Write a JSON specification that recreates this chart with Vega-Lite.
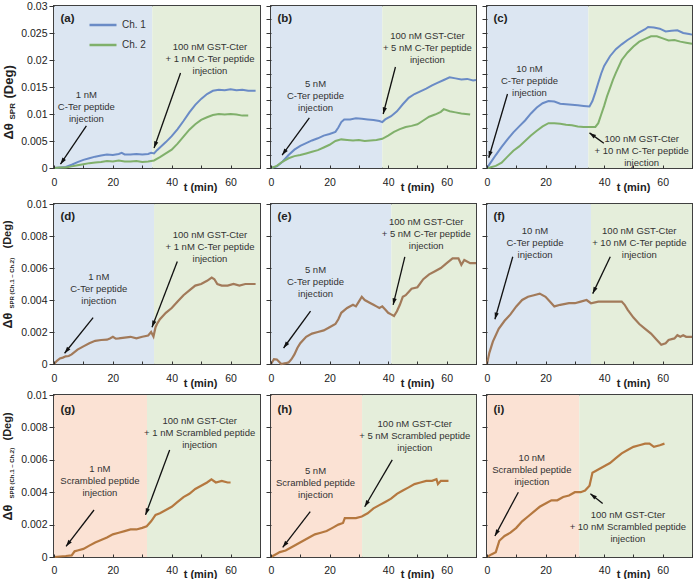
{
"$schema": "https://vega.github.io/schema/vega-lite/v6.json",
"padding": {"left": 0, "top": 0, "right": 0, "bottom": 0},
"background": "white",
"config": {"font": "Liberation Sans", "view": {"stroke": "#404040", "strokeWidth": 2}},
"datasets": {
"bg": [
{"p":"a","t0":0,"t1":33.4,"kind":"pep"},{"p":"a","t0":33.4,"t1":70,"kind":"gst"},
{"p":"b","t0":0,"t1":38,"kind":"pep"},{"p":"b","t0":38,"t1":70,"kind":"gst"},
{"p":"c","t0":0,"t1":34.6,"kind":"pep"},{"p":"c","t0":34.6,"t1":70,"kind":"gst"},
{"p":"d","t0":0,"t1":34,"kind":"pep"},{"p":"d","t0":34,"t1":70,"kind":"gst"},
{"p":"e","t0":0,"t1":41.1,"kind":"pep"},{"p":"e","t0":41.1,"t1":70,"kind":"gst"},
{"p":"f","t0":0,"t1":35.5,"kind":"pep"},{"p":"f","t0":35.5,"t1":70,"kind":"gst"},
{"p":"g","t0":0,"t1":31.6,"kind":"scr"},{"p":"g","t0":31.6,"t1":70,"kind":"gst"},
{"p":"h","t0":0,"t1":31.1,"kind":"scr"},{"p":"h","t0":31.1,"t1":70,"kind":"gst"},
{"p":"i","t0":0,"t1":31.5,"kind":"scr"},{"p":"i","t0":31.5,"t1":70,"kind":"gst"}
],
"lab": [
{"p":"a","t":2.2,"v":0.0276,"txt":"(a)"},{"p":"b","t":2.2,"v":0.0276,"txt":"(b)"},{"p":"c","t":2.2,"v":0.0276,"txt":"(c)"},
{"p":"d","t":2.2,"v":0.0092,"txt":"(d)"},{"p":"e","t":2.2,"v":0.0092,"txt":"(e)"},{"p":"f","t":2.2,"v":0.0092,"txt":"(f)"},
{"p":"g","t":2.2,"v":0.0091,"txt":"(g)"},{"p":"h","t":2.2,"v":0.0091,"txt":"(h)"},{"p":"i","t":2.2,"v":0.0091,"txt":"(i)"}
],
"ann": [
{"p":"a","t":11,"v":0.0135,"txt":"1 nM"},{"p":"a","t":11,"v":0.0113,"txt":"C-Ter peptide"},{"p":"a","t":11,"v":0.0091,"txt":"injection"},
{"p":"a","t":53,"v":0.0224,"txt":"100 nM GST-Cter"},{"p":"a","t":53,"v":0.0202,"txt":"+ 1 nM C-Ter peptide"},{"p":"a","t":53,"v":0.018,"txt":"injection"},
{"p":"b","t":15.2,"v":0.0155,"txt":"5 nM"},{"p":"b","t":15.2,"v":0.0133,"txt":"C-Ter peptide"},{"p":"b","t":15.2,"v":0.0111,"txt":"injection"},
{"p":"b","t":53.4,"v":0.0244,"txt":"100 nM GST-Cter"},{"p":"b","t":53.4,"v":0.0222,"txt":"+ 5 nM C-Ter peptide"},{"p":"b","t":53.4,"v":0.02,"txt":"injection"},
{"p":"c","t":14.5,"v":0.0183,"txt":"10 nM"},{"p":"c","t":14.5,"v":0.0161,"txt":"C-Ter peptide"},{"p":"c","t":14.5,"v":0.0139,"txt":"injection"},
{"p":"c","t":52.8,"v":0.0053,"txt":"100 nM GST-Cter"},{"p":"c","t":52.8,"v":0.0031,"txt":"+ 10 nM C-Ter peptide"},{"p":"c","t":52.8,"v":0.0009,"txt":"injection"},
{"p":"d","t":15.2,"v":0.00545,"txt":"1 nM"},{"p":"d","t":15.2,"v":0.0047,"txt":"C-Ter peptide"},{"p":"d","t":15.2,"v":0.00395,"txt":"injection"},
{"p":"d","t":53,"v":0.00805,"txt":"100 nM GST-Cter"},{"p":"d","t":53,"v":0.0073,"txt":"+ 1 nM C-Ter peptide"},{"p":"d","t":53,"v":0.00655,"txt":"injection"},
{"p":"e","t":15.2,"v":0.00585,"txt":"5 nM"},{"p":"e","t":15.2,"v":0.0051,"txt":"C-Ter peptide"},{"p":"e","t":15.2,"v":0.00435,"txt":"injection"},
{"p":"e","t":53,"v":0.0089,"txt":"100 nM GST-Cter"},{"p":"e","t":53,"v":0.00815,"txt":"+ 5 nM C-Ter peptide"},{"p":"e","t":53,"v":0.0074,"txt":"injection"},
{"p":"f","t":16.4,"v":0.0083,"txt":"10 nM"},{"p":"f","t":16.4,"v":0.00755,"txt":"C-Ter peptide"},{"p":"f","t":16.4,"v":0.0068,"txt":"injection"},
{"p":"f","t":52,"v":0.0083,"txt":"100 nM GST-Cter"},{"p":"f","t":52,"v":0.00755,"txt":"+ 10 nM C-Ter peptide"},{"p":"f","t":52,"v":0.0068,"txt":"injection"},
{"p":"g","t":15.6,"v":0.00545,"txt":"1 nM"},{"p":"g","t":15.6,"v":0.0047,"txt":"Scrambled peptide"},{"p":"g","t":15.6,"v":0.00395,"txt":"injection"},
{"p":"g","t":49.5,"v":0.0084,"txt":"100 nM GST-Cter"},{"p":"g","t":49.5,"v":0.00765,"txt":"+ 1 nM Scrambled peptide"},{"p":"g","t":49.5,"v":0.0069,"txt":"injection"},
{"p":"h","t":15.2,"v":0.0053,"txt":"5 nM"},{"p":"h","t":15.2,"v":0.00455,"txt":"Scrambled peptide"},{"p":"h","t":15.2,"v":0.0038,"txt":"injection"},
{"p":"h","t":49.1,"v":0.0082,"txt":"100 nM GST-Cter"},{"p":"h","t":49.1,"v":0.00745,"txt":"+ 5 nM Scrambled peptide"},{"p":"h","t":49.1,"v":0.0067,"txt":"injection"},
{"p":"i","t":15.3,"v":0.0061,"txt":"10 nM"},{"p":"i","t":15.3,"v":0.00535,"txt":"Scrambled peptide"},{"p":"i","t":15.3,"v":0.0046,"txt":"injection"},
{"p":"i","t":48.1,"v":0.0026,"txt":"100 nM GST-Cter"},{"p":"i","t":48.1,"v":0.00185,"txt":"+ 10 nM Scrambled peptide"},{"p":"i","t":48.1,"v":0.0011,"txt":"injection"}
],
"arr": [
{"p":"a","t":11,"v":0.0078,"t2":2.2,"v2":0.0007},{"p":"a","t":43,"v":0.0176,"t2":34,"v2":0.0037},
{"p":"b","t":13.1,"v":0.0093,"t2":3.8,"v2":0.0024},{"p":"b","t":42.5,"v":0.0187,"t2":38.3,"v2":0.01},
{"p":"c","t":7,"v":0.0137,"t2":0.6,"v2":0.0019},{"p":"c","t":39.9,"v":0.0046,"t2":35,"v2":0.0065},
{"p":"d","t":13.3,"v":0.0029,"t2":3.6,"v2":0.00067},{"p":"d","t":41.9,"v":0.0064,"t2":33.3,"v2":0.0023},
{"p":"e","t":13.5,"v":0.0033,"t2":4.3,"v2":0.001},{"p":"e","t":45.7,"v":0.0067,"t2":41.7,"v2":0.0037},
{"p":"f","t":8.8,"v":0.0067,"t2":2.7,"v2":0.0028},{"p":"f","t":42.1,"v":0.0067,"t2":36.1,"v2":0.0044},
{"p":"g","t":13.6,"v":0.0029,"t2":4.1,"v2":0.00066},{"p":"g","t":39.3,"v":0.0066,"t2":31.1,"v2":0.0026},
{"p":"h","t":13.4,"v":0.0028,"t2":4,"v2":0.0006},{"p":"h","t":41.4,"v":0.006,"t2":32,"v2":0.0031},
{"p":"i","t":10.7,"v":0.004,"t2":2.7,"v2":0.0013},{"p":"i","t":39.5,"v":0.0033,"t2":35.3,"v2":0.0039}
],
"lines": [
{"p":"a","ch":"Ch. 1","t":0,"v":0},{"p":"a","ch":"Ch. 1","t":2,"v":0.0001},{"p":"a","ch":"Ch. 1","t":4,"v":0.0002},{"p":"a","ch":"Ch. 1","t":6,"v":0.0006},{"p":"a","ch":"Ch. 1","t":8,"v":0.0011},{"p":"a","ch":"Ch. 1","t":10,"v":0.0015},{"p":"a","ch":"Ch. 1","t":12,"v":0.0018},{"p":"a","ch":"Ch. 1","t":14,"v":0.0021},{"p":"a","ch":"Ch. 1","t":16,"v":0.0023},{"p":"a","ch":"Ch. 1","t":18,"v":0.0025},{"p":"a","ch":"Ch. 1","t":20,"v":0.0024},{"p":"a","ch":"Ch. 1","t":22,"v":0.0026},{"p":"a","ch":"Ch. 1","t":23,"v":0.0028},{"p":"a","ch":"Ch. 1","t":24,"v":0.0025},{"p":"a","ch":"Ch. 1","t":26,"v":0.0025},{"p":"a","ch":"Ch. 1","t":28,"v":0.0026},{"p":"a","ch":"Ch. 1","t":30,"v":0.0025},{"p":"a","ch":"Ch. 1","t":32,"v":0.0026},{"p":"a","ch":"Ch. 1","t":33,"v":0.0028},{"p":"a","ch":"Ch. 1","t":34,"v":0.0027},{"p":"a","ch":"Ch. 1","t":35,"v":0.0033},{"p":"a","ch":"Ch. 1","t":36,"v":0.0038},{"p":"a","ch":"Ch. 1","t":38,"v":0.0048},{"p":"a","ch":"Ch. 1","t":40,"v":0.0059},{"p":"a","ch":"Ch. 1","t":42,"v":0.0072},{"p":"a","ch":"Ch. 1","t":44,"v":0.0087},{"p":"a","ch":"Ch. 1","t":46,"v":0.0103},{"p":"a","ch":"Ch. 1","t":48,"v":0.0117},{"p":"a","ch":"Ch. 1","t":50,"v":0.0128},{"p":"a","ch":"Ch. 1","t":52,"v":0.0137},{"p":"a","ch":"Ch. 1","t":54,"v":0.0143},{"p":"a","ch":"Ch. 1","t":56,"v":0.0145},{"p":"a","ch":"Ch. 1","t":58,"v":0.0144},{"p":"a","ch":"Ch. 1","t":60,"v":0.0146},{"p":"a","ch":"Ch. 1","t":62,"v":0.0144},{"p":"a","ch":"Ch. 1","t":64,"v":0.0145},{"p":"a","ch":"Ch. 1","t":66,"v":0.0143},{"p":"a","ch":"Ch. 1","t":68.5,"v":0.0143},
{"p":"a","ch":"Ch. 2","t":0,"v":0},{"p":"a","ch":"Ch. 2","t":2,"v":0.0001},{"p":"a","ch":"Ch. 2","t":4,"v":0.0001},{"p":"a","ch":"Ch. 2","t":6,"v":0.0003},{"p":"a","ch":"Ch. 2","t":8,"v":0.0005},{"p":"a","ch":"Ch. 2","t":10,"v":0.0007},{"p":"a","ch":"Ch. 2","t":12,"v":0.0009},{"p":"a","ch":"Ch. 2","t":14,"v":0.001},{"p":"a","ch":"Ch. 2","t":16,"v":0.0011},{"p":"a","ch":"Ch. 2","t":18,"v":0.0013},{"p":"a","ch":"Ch. 2","t":20,"v":0.0012},{"p":"a","ch":"Ch. 2","t":22,"v":0.0014},{"p":"a","ch":"Ch. 2","t":24,"v":0.0012},{"p":"a","ch":"Ch. 2","t":26,"v":0.0012},{"p":"a","ch":"Ch. 2","t":28,"v":0.0013},{"p":"a","ch":"Ch. 2","t":30,"v":0.0011},{"p":"a","ch":"Ch. 2","t":32,"v":0.0012},{"p":"a","ch":"Ch. 2","t":34,"v":0.0014},{"p":"a","ch":"Ch. 2","t":36,"v":0.002},{"p":"a","ch":"Ch. 2","t":38,"v":0.0027},{"p":"a","ch":"Ch. 2","t":40,"v":0.0034},{"p":"a","ch":"Ch. 2","t":42,"v":0.0045},{"p":"a","ch":"Ch. 2","t":44,"v":0.0058},{"p":"a","ch":"Ch. 2","t":46,"v":0.0071},{"p":"a","ch":"Ch. 2","t":48,"v":0.0081},{"p":"a","ch":"Ch. 2","t":50,"v":0.0089},{"p":"a","ch":"Ch. 2","t":52,"v":0.0094},{"p":"a","ch":"Ch. 2","t":54,"v":0.0098},{"p":"a","ch":"Ch. 2","t":56,"v":0.01},{"p":"a","ch":"Ch. 2","t":58,"v":0.0099},{"p":"a","ch":"Ch. 2","t":60,"v":0.01},{"p":"a","ch":"Ch. 2","t":62,"v":0.0099},{"p":"a","ch":"Ch. 2","t":64,"v":0.0097},{"p":"a","ch":"Ch. 2","t":66,"v":0.0097},
{"p":"b","ch":"Ch. 1","t":0,"v":0},{"p":"b","ch":"Ch. 1","t":2,"v":0.0003},{"p":"b","ch":"Ch. 1","t":4,"v":0.0012},{"p":"b","ch":"Ch. 1","t":6,"v":0.0024},{"p":"b","ch":"Ch. 1","t":8,"v":0.0034},{"p":"b","ch":"Ch. 1","t":10,"v":0.0041},{"p":"b","ch":"Ch. 1","t":12,"v":0.0046},{"p":"b","ch":"Ch. 1","t":14,"v":0.0051},{"p":"b","ch":"Ch. 1","t":16,"v":0.0055},{"p":"b","ch":"Ch. 1","t":18,"v":0.006},{"p":"b","ch":"Ch. 1","t":20,"v":0.0063},{"p":"b","ch":"Ch. 1","t":22,"v":0.0067},{"p":"b","ch":"Ch. 1","t":23,"v":0.0075},{"p":"b","ch":"Ch. 1","t":24,"v":0.0085},{"p":"b","ch":"Ch. 1","t":25,"v":0.009},{"p":"b","ch":"Ch. 1","t":27,"v":0.009},{"p":"b","ch":"Ch. 1","t":29,"v":0.0092},{"p":"b","ch":"Ch. 1","t":31,"v":0.0091},{"p":"b","ch":"Ch. 1","t":33,"v":0.009},{"p":"b","ch":"Ch. 1","t":35,"v":0.0089},{"p":"b","ch":"Ch. 1","t":37,"v":0.0087},{"p":"b","ch":"Ch. 1","t":38,"v":0.0085},{"p":"b","ch":"Ch. 1","t":39,"v":0.009},{"p":"b","ch":"Ch. 1","t":41,"v":0.0096},{"p":"b","ch":"Ch. 1","t":43,"v":0.0105},{"p":"b","ch":"Ch. 1","t":45,"v":0.0118},{"p":"b","ch":"Ch. 1","t":47,"v":0.013},{"p":"b","ch":"Ch. 1","t":49,"v":0.0137},{"p":"b","ch":"Ch. 1","t":51,"v":0.0142},{"p":"b","ch":"Ch. 1","t":53,"v":0.0147},{"p":"b","ch":"Ch. 1","t":55,"v":0.0153},{"p":"b","ch":"Ch. 1","t":57,"v":0.0158},{"p":"b","ch":"Ch. 1","t":59,"v":0.0163},{"p":"b","ch":"Ch. 1","t":61,"v":0.0168},{"p":"b","ch":"Ch. 1","t":63,"v":0.0166},{"p":"b","ch":"Ch. 1","t":65,"v":0.0164},{"p":"b","ch":"Ch. 1","t":67,"v":0.0165},{"p":"b","ch":"Ch. 1","t":69,"v":0.0162},{"p":"b","ch":"Ch. 1","t":70,"v":0.0163},
{"p":"b","ch":"Ch. 2","t":0,"v":0},{"p":"b","ch":"Ch. 2","t":2,"v":0.0004},{"p":"b","ch":"Ch. 2","t":4,"v":0.0012},{"p":"b","ch":"Ch. 2","t":6,"v":0.0018},{"p":"b","ch":"Ch. 2","t":8,"v":0.0022},{"p":"b","ch":"Ch. 2","t":10,"v":0.0024},{"p":"b","ch":"Ch. 2","t":12,"v":0.0027},{"p":"b","ch":"Ch. 2","t":14,"v":0.003},{"p":"b","ch":"Ch. 2","t":16,"v":0.0033},{"p":"b","ch":"Ch. 2","t":18,"v":0.0038},{"p":"b","ch":"Ch. 2","t":20,"v":0.0043},{"p":"b","ch":"Ch. 2","t":22,"v":0.005},{"p":"b","ch":"Ch. 2","t":24,"v":0.0053},{"p":"b","ch":"Ch. 2","t":26,"v":0.0052},{"p":"b","ch":"Ch. 2","t":28,"v":0.0051},{"p":"b","ch":"Ch. 2","t":30,"v":0.0052},{"p":"b","ch":"Ch. 2","t":32,"v":0.005},{"p":"b","ch":"Ch. 2","t":34,"v":0.0051},{"p":"b","ch":"Ch. 2","t":36,"v":0.0052},{"p":"b","ch":"Ch. 2","t":38,"v":0.0054},{"p":"b","ch":"Ch. 2","t":40,"v":0.006},{"p":"b","ch":"Ch. 2","t":42,"v":0.0067},{"p":"b","ch":"Ch. 2","t":44,"v":0.0072},{"p":"b","ch":"Ch. 2","t":46,"v":0.0076},{"p":"b","ch":"Ch. 2","t":48,"v":0.0078},{"p":"b","ch":"Ch. 2","t":50,"v":0.0081},{"p":"b","ch":"Ch. 2","t":52,"v":0.0088},{"p":"b","ch":"Ch. 2","t":54,"v":0.0095},{"p":"b","ch":"Ch. 2","t":56,"v":0.0099},{"p":"b","ch":"Ch. 2","t":58,"v":0.0104},{"p":"b","ch":"Ch. 2","t":59,"v":0.0109},{"p":"b","ch":"Ch. 2","t":61,"v":0.0105},{"p":"b","ch":"Ch. 2","t":63,"v":0.0103},{"p":"b","ch":"Ch. 2","t":65,"v":0.0101},{"p":"b","ch":"Ch. 2","t":68,"v":0.0099},
{"p":"c","ch":"Ch. 1","t":0,"v":0},{"p":"c","ch":"Ch. 1","t":1,"v":0.0008},{"p":"c","ch":"Ch. 1","t":3,"v":0.0024},{"p":"c","ch":"Ch. 1","t":5,"v":0.0039},{"p":"c","ch":"Ch. 1","t":7,"v":0.0053},{"p":"c","ch":"Ch. 1","t":9,"v":0.0066},{"p":"c","ch":"Ch. 1","t":11,"v":0.0077},{"p":"c","ch":"Ch. 1","t":13,"v":0.0088},{"p":"c","ch":"Ch. 1","t":15,"v":0.0101},{"p":"c","ch":"Ch. 1","t":17,"v":0.0112},{"p":"c","ch":"Ch. 1","t":19,"v":0.012},{"p":"c","ch":"Ch. 1","t":21,"v":0.0124},{"p":"c","ch":"Ch. 1","t":23,"v":0.0123},{"p":"c","ch":"Ch. 1","t":25,"v":0.0119},{"p":"c","ch":"Ch. 1","t":27,"v":0.0118},{"p":"c","ch":"Ch. 1","t":29,"v":0.0117},{"p":"c","ch":"Ch. 1","t":31,"v":0.0116},{"p":"c","ch":"Ch. 1","t":33,"v":0.0115},{"p":"c","ch":"Ch. 1","t":35,"v":0.0114},{"p":"c","ch":"Ch. 1","t":36,"v":0.0124},{"p":"c","ch":"Ch. 1","t":37,"v":0.014},{"p":"c","ch":"Ch. 1","t":38,"v":0.0158},{"p":"c","ch":"Ch. 1","t":39,"v":0.0175},{"p":"c","ch":"Ch. 1","t":40,"v":0.0189},{"p":"c","ch":"Ch. 1","t":42,"v":0.0207},{"p":"c","ch":"Ch. 1","t":44,"v":0.022},{"p":"c","ch":"Ch. 1","t":46,"v":0.0229},{"p":"c","ch":"Ch. 1","t":48,"v":0.0237},{"p":"c","ch":"Ch. 1","t":50,"v":0.0244},{"p":"c","ch":"Ch. 1","t":52,"v":0.0251},{"p":"c","ch":"Ch. 1","t":54,"v":0.0257},{"p":"c","ch":"Ch. 1","t":55,"v":0.0261},{"p":"c","ch":"Ch. 1","t":57,"v":0.026},{"p":"c","ch":"Ch. 1","t":59,"v":0.0258},{"p":"c","ch":"Ch. 1","t":61,"v":0.0253},{"p":"c","ch":"Ch. 1","t":63,"v":0.0254},{"p":"c","ch":"Ch. 1","t":65,"v":0.0255},{"p":"c","ch":"Ch. 1","t":67,"v":0.025},{"p":"c","ch":"Ch. 1","t":69,"v":0.0248},{"p":"c","ch":"Ch. 1","t":70,"v":0.0247},
{"p":"c","ch":"Ch. 2","t":0,"v":0},{"p":"c","ch":"Ch. 2","t":1,"v":0.0001},{"p":"c","ch":"Ch. 2","t":3,"v":0.0004},{"p":"c","ch":"Ch. 2","t":5,"v":0.001},{"p":"c","ch":"Ch. 2","t":7,"v":0.0021},{"p":"c","ch":"Ch. 2","t":9,"v":0.0032},{"p":"c","ch":"Ch. 2","t":11,"v":0.004},{"p":"c","ch":"Ch. 2","t":13,"v":0.005},{"p":"c","ch":"Ch. 2","t":15,"v":0.006},{"p":"c","ch":"Ch. 2","t":17,"v":0.0069},{"p":"c","ch":"Ch. 2","t":19,"v":0.0077},{"p":"c","ch":"Ch. 2","t":21,"v":0.0083},{"p":"c","ch":"Ch. 2","t":23,"v":0.0083},{"p":"c","ch":"Ch. 2","t":25,"v":0.0082},{"p":"c","ch":"Ch. 2","t":27,"v":0.008},{"p":"c","ch":"Ch. 2","t":29,"v":0.0079},{"p":"c","ch":"Ch. 2","t":31,"v":0.0077},{"p":"c","ch":"Ch. 2","t":33,"v":0.0076},{"p":"c","ch":"Ch. 2","t":35,"v":0.0076},{"p":"c","ch":"Ch. 2","t":37,"v":0.0076},{"p":"c","ch":"Ch. 2","t":38,"v":0.0083},{"p":"c","ch":"Ch. 2","t":39,"v":0.0099},{"p":"c","ch":"Ch. 2","t":40,"v":0.0115},{"p":"c","ch":"Ch. 2","t":41,"v":0.0133},{"p":"c","ch":"Ch. 2","t":42,"v":0.0148},{"p":"c","ch":"Ch. 2","t":43,"v":0.0163},{"p":"c","ch":"Ch. 2","t":44,"v":0.0176},{"p":"c","ch":"Ch. 2","t":46,"v":0.02},{"p":"c","ch":"Ch. 2","t":48,"v":0.0214},{"p":"c","ch":"Ch. 2","t":50,"v":0.0225},{"p":"c","ch":"Ch. 2","t":52,"v":0.0234},{"p":"c","ch":"Ch. 2","t":54,"v":0.0239},{"p":"c","ch":"Ch. 2","t":56,"v":0.0244},{"p":"c","ch":"Ch. 2","t":58,"v":0.0244},{"p":"c","ch":"Ch. 2","t":60,"v":0.024},{"p":"c","ch":"Ch. 2","t":62,"v":0.0236},{"p":"c","ch":"Ch. 2","t":64,"v":0.0237},{"p":"c","ch":"Ch. 2","t":66,"v":0.0234},{"p":"c","ch":"Ch. 2","t":68,"v":0.0232},{"p":"c","ch":"Ch. 2","t":70,"v":0.023},
{"p":"d","ch":"d","t":0,"v":0},{"p":"d","ch":"d","t":1,"v":0.0002},{"p":"d","ch":"d","t":2,"v":0.00035},{"p":"d","ch":"d","t":3,"v":0.0004},{"p":"d","ch":"d","t":4,"v":0.00048},{"p":"d","ch":"d","t":5,"v":0.0005},{"p":"d","ch":"d","t":6,"v":0.0006},{"p":"d","ch":"d","t":8,"v":0.0009},{"p":"d","ch":"d","t":10,"v":0.0011},{"p":"d","ch":"d","t":12,"v":0.0013},{"p":"d","ch":"d","t":14,"v":0.00145},{"p":"d","ch":"d","t":16,"v":0.0015},{"p":"d","ch":"d","t":18,"v":0.00152},{"p":"d","ch":"d","t":19,"v":0.0016},{"p":"d","ch":"d","t":20,"v":0.0017},{"p":"d","ch":"d","t":21,"v":0.00158},{"p":"d","ch":"d","t":22,"v":0.0016},{"p":"d","ch":"d","t":24,"v":0.00165},{"p":"d","ch":"d","t":26,"v":0.0017},{"p":"d","ch":"d","t":28,"v":0.0016},{"p":"d","ch":"d","t":30,"v":0.0017},{"p":"d","ch":"d","t":32,"v":0.00178},{"p":"d","ch":"d","t":33,"v":0.002},{"p":"d","ch":"d","t":33.8,"v":0.00172},{"p":"d","ch":"d","t":34.5,"v":0.0023},{"p":"d","ch":"d","t":35,"v":0.0025},{"p":"d","ch":"d","t":36,"v":0.0028},{"p":"d","ch":"d","t":37,"v":0.003},{"p":"d","ch":"d","t":38,"v":0.0032},{"p":"d","ch":"d","t":40,"v":0.0035},{"p":"d","ch":"d","t":42,"v":0.0039},{"p":"d","ch":"d","t":44,"v":0.0043},{"p":"d","ch":"d","t":46,"v":0.0046},{"p":"d","ch":"d","t":48,"v":0.0049},{"p":"d","ch":"d","t":50,"v":0.005},{"p":"d","ch":"d","t":52,"v":0.0052},{"p":"d","ch":"d","t":53.6,"v":0.0054},{"p":"d","ch":"d","t":54.5,"v":0.0053},{"p":"d","ch":"d","t":55.5,"v":0.005},{"p":"d","ch":"d","t":57,"v":0.0049},{"p":"d","ch":"d","t":59,"v":0.0049},{"p":"d","ch":"d","t":61,"v":0.005},{"p":"d","ch":"d","t":63,"v":0.0049},{"p":"d","ch":"d","t":65,"v":0.005},{"p":"d","ch":"d","t":67,"v":0.005},{"p":"d","ch":"d","t":68.5,"v":0.005},
{"p":"e","ch":"d","t":0,"v":0},{"p":"e","ch":"d","t":1,"v":0.0003},{"p":"e","ch":"d","t":2,"v":0.00028},{"p":"e","ch":"d","t":3,"v":0.0001},{"p":"e","ch":"d","t":3.5,"v":0},{"p":"e","ch":"d","t":5,"v":0.00005},{"p":"e","ch":"d","t":6,"v":0.0001},{"p":"e","ch":"d","t":7,"v":0.0003},{"p":"e","ch":"d","t":8,"v":0.0006},{"p":"e","ch":"d","t":9,"v":0.001},{"p":"e","ch":"d","t":10,"v":0.0013},{"p":"e","ch":"d","t":12,"v":0.0017},{"p":"e","ch":"d","t":14,"v":0.0019},{"p":"e","ch":"d","t":16,"v":0.002},{"p":"e","ch":"d","t":18,"v":0.0021},{"p":"e","ch":"d","t":20,"v":0.0023},{"p":"e","ch":"d","t":22,"v":0.0025},{"p":"e","ch":"d","t":23,"v":0.0028},{"p":"e","ch":"d","t":24,"v":0.0032},{"p":"e","ch":"d","t":26,"v":0.0035},{"p":"e","ch":"d","t":28,"v":0.0037},{"p":"e","ch":"d","t":29,"v":0.0036},{"p":"e","ch":"d","t":30,"v":0.0039},{"p":"e","ch":"d","t":31,"v":0.0042},{"p":"e","ch":"d","t":32,"v":0.004},{"p":"e","ch":"d","t":34,"v":0.0038},{"p":"e","ch":"d","t":35,"v":0.0037},{"p":"e","ch":"d","t":36,"v":0.0036},{"p":"e","ch":"d","t":37,"v":0.0035},{"p":"e","ch":"d","t":38,"v":0.0036},{"p":"e","ch":"d","t":39,"v":0.0034},{"p":"e","ch":"d","t":40,"v":0.0032},{"p":"e","ch":"d","t":41,"v":0.0031},{"p":"e","ch":"d","t":42,"v":0.003},{"p":"e","ch":"d","t":43,"v":0.0033},{"p":"e","ch":"d","t":44,"v":0.0037},{"p":"e","ch":"d","t":45,"v":0.0042},{"p":"e","ch":"d","t":46,"v":0.0043},{"p":"e","ch":"d","t":48,"v":0.0047},{"p":"e","ch":"d","t":50,"v":0.0048},{"p":"e","ch":"d","t":52,"v":0.0053},{"p":"e","ch":"d","t":54,"v":0.0056},{"p":"e","ch":"d","t":56,"v":0.0058},{"p":"e","ch":"d","t":58,"v":0.006},{"p":"e","ch":"d","t":60,"v":0.0063},{"p":"e","ch":"d","t":62,"v":0.0066},{"p":"e","ch":"d","t":64,"v":0.0066},{"p":"e","ch":"d","t":65,"v":0.0062},{"p":"e","ch":"d","t":66,"v":0.0065},{"p":"e","ch":"d","t":68,"v":0.0063},{"p":"e","ch":"d","t":70,"v":0.0063},
{"p":"f","ch":"d","t":0,"v":0},{"p":"f","ch":"d","t":0.8,"v":0.0007},{"p":"f","ch":"d","t":2,"v":0.0014},{"p":"f","ch":"d","t":4,"v":0.0022},{"p":"f","ch":"d","t":6,"v":0.0027},{"p":"f","ch":"d","t":8,"v":0.0031},{"p":"f","ch":"d","t":10,"v":0.0036},{"p":"f","ch":"d","t":12,"v":0.004},{"p":"f","ch":"d","t":14,"v":0.0042},{"p":"f","ch":"d","t":16,"v":0.0043},{"p":"f","ch":"d","t":18,"v":0.0044},{"p":"f","ch":"d","t":20,"v":0.0042},{"p":"f","ch":"d","t":22,"v":0.0038},{"p":"f","ch":"d","t":23,"v":0.0036},{"p":"f","ch":"d","t":25,"v":0.0037},{"p":"f","ch":"d","t":28,"v":0.0038},{"p":"f","ch":"d","t":30,"v":0.0038},{"p":"f","ch":"d","t":32,"v":0.0039},{"p":"f","ch":"d","t":34,"v":0.004},{"p":"f","ch":"d","t":35.5,"v":0.0038},{"p":"f","ch":"d","t":38,"v":0.0039},{"p":"f","ch":"d","t":40,"v":0.0039},{"p":"f","ch":"d","t":42,"v":0.0039},{"p":"f","ch":"d","t":44,"v":0.0039},{"p":"f","ch":"d","t":46,"v":0.0039},{"p":"f","ch":"d","t":47,"v":0.0037},{"p":"f","ch":"d","t":48,"v":0.0034},{"p":"f","ch":"d","t":50,"v":0.0029},{"p":"f","ch":"d","t":52,"v":0.0025},{"p":"f","ch":"d","t":54,"v":0.0022},{"p":"f","ch":"d","t":56,"v":0.0019},{"p":"f","ch":"d","t":58,"v":0.0015},{"p":"f","ch":"d","t":59.5,"v":0.0012},{"p":"f","ch":"d","t":61,"v":0.0013},{"p":"f","ch":"d","t":62,"v":0.0015},{"p":"f","ch":"d","t":64,"v":0.0016},{"p":"f","ch":"d","t":65,"v":0.0018},{"p":"f","ch":"d","t":66,"v":0.0017},{"p":"f","ch":"d","t":67,"v":0.0018},{"p":"f","ch":"d","t":68,"v":0.0017},{"p":"f","ch":"d","t":70,"v":0.0017},
{"p":"g","ch":"d","t":0,"v":0},{"p":"g","ch":"d","t":2,"v":0.00003},{"p":"g","ch":"d","t":4,"v":0.00006},{"p":"g","ch":"d","t":6,"v":0.0001},{"p":"g","ch":"d","t":7,"v":0.00035},{"p":"g","ch":"d","t":8,"v":0.0004},{"p":"g","ch":"d","t":10,"v":0.0005},{"p":"g","ch":"d","t":12,"v":0.0007},{"p":"g","ch":"d","t":14,"v":0.0009},{"p":"g","ch":"d","t":16,"v":0.00105},{"p":"g","ch":"d","t":18,"v":0.0012},{"p":"g","ch":"d","t":20,"v":0.0014},{"p":"g","ch":"d","t":22,"v":0.0015},{"p":"g","ch":"d","t":24,"v":0.0016},{"p":"g","ch":"d","t":26,"v":0.0017},{"p":"g","ch":"d","t":28,"v":0.0017},{"p":"g","ch":"d","t":30,"v":0.0018},{"p":"g","ch":"d","t":31.5,"v":0.0019},{"p":"g","ch":"d","t":33,"v":0.0022},{"p":"g","ch":"d","t":34.5,"v":0.0026},{"p":"g","ch":"d","t":36,"v":0.0027},{"p":"g","ch":"d","t":38,"v":0.0029},{"p":"g","ch":"d","t":40,"v":0.0031},{"p":"g","ch":"d","t":42,"v":0.0034},{"p":"g","ch":"d","t":44,"v":0.0037},{"p":"g","ch":"d","t":46,"v":0.0039},{"p":"g","ch":"d","t":48,"v":0.0042},{"p":"g","ch":"d","t":50,"v":0.0044},{"p":"g","ch":"d","t":52,"v":0.0046},{"p":"g","ch":"d","t":53.5,"v":0.0048},{"p":"g","ch":"d","t":55,"v":0.0046},{"p":"g","ch":"d","t":57,"v":0.0047},{"p":"g","ch":"d","t":59,"v":0.0046},{"p":"g","ch":"d","t":60,"v":0.0046},
{"p":"h","ch":"d","t":0,"v":0},{"p":"h","ch":"d","t":2,"v":0.0002},{"p":"h","ch":"d","t":3,"v":0.0003},{"p":"h","ch":"d","t":5,"v":0.0004},{"p":"h","ch":"d","t":7,"v":0.0006},{"p":"h","ch":"d","t":9,"v":0.0008},{"p":"h","ch":"d","t":11,"v":0.001},{"p":"h","ch":"d","t":13,"v":0.0012},{"p":"h","ch":"d","t":15,"v":0.0014},{"p":"h","ch":"d","t":17,"v":0.0015},{"p":"h","ch":"d","t":19,"v":0.0016},{"p":"h","ch":"d","t":21,"v":0.0018},{"p":"h","ch":"d","t":23,"v":0.002},{"p":"h","ch":"d","t":24.6,"v":0.0021},{"p":"h","ch":"d","t":25.2,"v":0.0024},{"p":"h","ch":"d","t":27,"v":0.0024},{"p":"h","ch":"d","t":29,"v":0.0024},{"p":"h","ch":"d","t":31,"v":0.0025},{"p":"h","ch":"d","t":33,"v":0.0027},{"p":"h","ch":"d","t":35,"v":0.003},{"p":"h","ch":"d","t":37,"v":0.0032},{"p":"h","ch":"d","t":39,"v":0.0034},{"p":"h","ch":"d","t":41,"v":0.0036},{"p":"h","ch":"d","t":43,"v":0.0039},{"p":"h","ch":"d","t":45,"v":0.0041},{"p":"h","ch":"d","t":47,"v":0.0043},{"p":"h","ch":"d","t":49,"v":0.0045},{"p":"h","ch":"d","t":51,"v":0.0046},{"p":"h","ch":"d","t":53,"v":0.0047},{"p":"h","ch":"d","t":55,"v":0.0047},{"p":"h","ch":"d","t":56.5,"v":0.0048},{"p":"h","ch":"d","t":57,"v":0.0045},{"p":"h","ch":"d","t":58,"v":0.0047},{"p":"h","ch":"d","t":60.6,"v":0.0047},
{"p":"i","ch":"d","t":0,"v":0},{"p":"i","ch":"d","t":1.5,"v":0.00016},{"p":"i","ch":"d","t":3,"v":0.0003},{"p":"i","ch":"d","t":4.2,"v":0.001},{"p":"i","ch":"d","t":6,"v":0.0013},{"p":"i","ch":"d","t":8,"v":0.0015},{"p":"i","ch":"d","t":10,"v":0.0018},{"p":"i","ch":"d","t":12,"v":0.0022},{"p":"i","ch":"d","t":14,"v":0.0025},{"p":"i","ch":"d","t":16,"v":0.0028},{"p":"i","ch":"d","t":18,"v":0.0031},{"p":"i","ch":"d","t":20,"v":0.0033},{"p":"i","ch":"d","t":22,"v":0.0035},{"p":"i","ch":"d","t":24,"v":0.0035},{"p":"i","ch":"d","t":26,"v":0.0037},{"p":"i","ch":"d","t":28,"v":0.0038},{"p":"i","ch":"d","t":30,"v":0.004},{"p":"i","ch":"d","t":32,"v":0.004},{"p":"i","ch":"d","t":33.5,"v":0.0041},{"p":"i","ch":"d","t":35,"v":0.0044},{"p":"i","ch":"d","t":36,"v":0.0052},{"p":"i","ch":"d","t":38,"v":0.0054},{"p":"i","ch":"d","t":40,"v":0.0056},{"p":"i","ch":"d","t":42,"v":0.0058},{"p":"i","ch":"d","t":44,"v":0.0061},{"p":"i","ch":"d","t":46,"v":0.0064},{"p":"i","ch":"d","t":48,"v":0.0066},{"p":"i","ch":"d","t":50,"v":0.0068},{"p":"i","ch":"d","t":52,"v":0.0069},{"p":"i","ch":"d","t":54,"v":0.007},{"p":"i","ch":"d","t":55.5,"v":0.007},{"p":"i","ch":"d","t":57,"v":0.0068},{"p":"i","ch":"d","t":59,"v":0.0069},{"p":"i","ch":"d","t":60.6,"v":0.007}
]
},
"spacing": 5,
"vconcat": [
{"bounds": "flush", "spacing": 11, "resolve": {"scale": {"color": "independent"}, "legend": {"color": "independent"}}, "hconcat": [
{"width": 206, "height": 162, "resolve": {"axis": {"x": "independent", "y": "independent"}}, "layer": [
{"data": {"name": "bg"}, "transform": [{"filter": "datum.p == 'a'"}], "mark": "rect", "encoding": {"x": {"field": "t0", "type": "quantitative", "scale": {"domain": [0, 70], "nice": false}, "axis": null}, "x2": {"field": "t1"}, "fill": {"field": "kind", "type": "nominal", "scale": {"domain": ["pep", "scr", "gst"], "range": ["#dce6f2", "#fbe2d4", "#e5eedb"]}, "legend": null}}},
{"data": {"name": "lines"}, "transform": [{"filter": "datum.p == 'a'"}], "mark": {"type": "line", "strokeWidth": 2}, "encoding": {
"x": {"field": "t", "type": "quantitative", "scale": {"domain": [0, 70], "nice": false}, "axis": {"values": [0,10,20,30,40,50,60,70], "labelExpr": "datum.value % 20 == 0 && datum.value < 70 ? datum.label : ''", "tickSize": -3, "labelPadding": 12, "domain": false, "grid": false, "zindex": 1, "labelFontSize": 10.5, "labelColor": "#222", "tickColor": "#333", "labelFlush": false, "labelOverlap": false, "title": "t (min)", "titleX": 146, "titleY": 13, "titleBaseline": "top", "titleAlign": "center", "titleFontSize": 11, "titleFontWeight": "bold", "titleColor": "#222"}},
"y": {"field": "v", "type": "quantitative", "scale": {"domain": [0, 0.03], "nice": false}, "axis": {"orient": "left", "values": [0,0.005,0.01,0.015,0.02,0.025,0.03], "format": "~g", "tickSize": 5, "labelPadding": 2, "domain": false, "grid": false, "zindex": 1, "labelFontSize": 10.5, "labelColor": "#222", "tickColor": "#333", "title": "Δθ", "titleX": -46, "titleY": 133, "titleAngle": -90, "titleAlign": "left", "titleBaseline": "middle", "titleFontSize": 13, "titleFontWeight": "bold", "titleColor": "#222"}},
"color": {"field": "ch", "type": "nominal", "scale": {"domain": ["Ch. 1", "Ch. 2"], "range": ["#6a8bc6", "#80b06b"]}, "legend": {"orient": "none", "legendX": 34, "legendY": 4, "title": null, "symbolType": "stroke", "symbolSize": 729, "symbolStrokeWidth": 2.5, "labelFontSize": 10, "labelColor": "#333", "rowPadding": -6, "labelOffset": 4}}}},
{"data": {"name": "arr"}, "transform": [{"filter": "datum.p == 'a'"}], "mark": {"type": "rule", "strokeWidth": 1.3, "color": "#111"}, "encoding": {"x": {"field": "t", "type": "quantitative", "scale": {"domain": [0, 70], "nice": false}, "axis": null}, "x2": {"field": "t2"}, "y": {"field": "v", "type": "quantitative", "scale": {"domain": [0, 0.03], "nice": false}, "axis": {"orient": "left", "labels": false, "ticks": false, "domain": false, "grid": false, "title": "SPR", "titleX": -41.5, "titleY": 113, "titleAngle": -90, "titleAlign": "left", "titleBaseline": "middle", "titleFontSize": 8, "titleFontWeight": "bold", "titleColor": "#222"}}, "y2": {"field": "v2"}}},
{"data": {"name": "arr"}, "transform": [{"filter": "datum.p == 'a'"}, {"calculate": "atan2((datum.t2 - datum.t) * 206 / 70, (datum.v2 - datum.v) * 161 / (indexof(['a','b','c'], datum.p) >= 0 ? 0.03 : 0.01)) * 180 / PI", "as": "ang"}], "mark": {"type": "point", "shape": "M0,0L0.55,1.7L-0.55,1.7Z", "filled": true, "color": "#111", "opacity": 1, "size": 60}, "encoding": {"x": {"field": "t2", "type": "quantitative", "scale": {"domain": [0, 70], "nice": false}, "axis": null}, "y": {"field": "v2", "type": "quantitative", "scale": {"domain": [0, 0.03], "nice": false}, "axis": {"orient": "left", "labels": false, "ticks": false, "domain": false, "grid": false, "title": "(Deg)", "titleX": -46, "titleY": 92, "titleAngle": -90, "titleAlign": "left", "titleBaseline": "middle", "titleFontSize": 13, "titleFontWeight": "bold", "titleColor": "#222"}}, "angle": {"field": "ang", "type": "quantitative", "scale": null}}},
{"data": {"name": "ann"}, "transform": [{"filter": "datum.p == 'a'"}], "mark": {"type": "text", "fontSize": 9.5, "align": "center", "baseline": "middle", "color": "#333"}, "encoding": {"x": {"field": "t", "type": "quantitative", "scale": {"domain": [0, 70], "nice": false}, "axis": null}, "y": {"field": "v", "type": "quantitative", "scale": {"domain": [0, 0.03], "nice": false}, "axis": null}, "text": {"field": "txt"}}},
{"data": {"name": "lab"}, "transform": [{"filter": "datum.p == 'a'"}], "mark": {"type": "text", "fontSize": 11.5, "fontWeight": "bold", "align": "left", "baseline": "middle", "color": "#222"}, "encoding": {"x": {"field": "t", "type": "quantitative", "scale": {"domain": [0, 70], "nice": false}, "axis": null}, "y": {"field": "v", "type": "quantitative", "scale": {"domain": [0, 0.03], "nice": false}, "axis": null}, "text": {"field": "txt"}}}
]},
{"width": 205, "height": 162, "resolve": {"axis": {"x": "independent", "y": "independent"}}, "layer": [
{"data": {"name": "bg"}, "transform": [{"filter": "datum.p == 'b'"}], "mark": "rect", "encoding": {"x": {"field": "t0", "type": "quantitative", "scale": {"domain": [0, 70], "nice": false}, "axis": null}, "x2": {"field": "t1"}, "fill": {"field": "kind", "type": "nominal", "scale": {"domain": ["pep", "scr", "gst"], "range": ["#dce6f2", "#fbe2d4", "#e5eedb"]}, "legend": null}}},
{"data": {"name": "lines"}, "transform": [{"filter": "datum.p == 'b'"}], "mark": {"type": "line", "strokeWidth": 2}, "encoding": {
"x": {"field": "t", "type": "quantitative", "scale": {"domain": [0, 70], "nice": false}, "axis": {"values": [0,10,20,30,40,50,60,70], "labelExpr": "datum.value % 20 == 0 && datum.value < 70 ? datum.label : ''", "tickSize": -3, "labelPadding": 12, "domain": false, "grid": false, "zindex": 1, "labelFontSize": 10.5, "labelColor": "#222", "tickColor": "#333", "labelFlush": false, "labelOverlap": false, "title": "t (min)", "titleX": 146, "titleY": 13, "titleBaseline": "top", "titleAlign": "center", "titleFontSize": 11, "titleFontWeight": "bold", "titleColor": "#222"}},
"y": {"field": "v", "type": "quantitative", "scale": {"domain": [0, 0.03], "nice": false}, "axis": {"orient": "left", "values": [0,0.0025,0.005,0.0075,0.01,0.0125,0.015,0.0175,0.02,0.0225,0.025,0.0275,0.03], "labels": false, "tickSize": 5, "domain": false, "grid": false, "zindex": 1, "tickColor": "#333", "title": null}},
"color": {"field": "ch", "type": "nominal", "scale": {"domain": ["Ch. 1", "Ch. 2"], "range": ["#6a8bc6", "#80b06b"]}, "legend": null}}},
{"data": {"name": "arr"}, "transform": [{"filter": "datum.p == 'b'"}], "mark": {"type": "rule", "strokeWidth": 1.3, "color": "#111"}, "encoding": {"x": {"field": "t", "type": "quantitative", "scale": {"domain": [0, 70], "nice": false}, "axis": null}, "x2": {"field": "t2"}, "y": {"field": "v", "type": "quantitative", "scale": {"domain": [0, 0.03], "nice": false}, "axis": null}, "y2": {"field": "v2"}}},
{"data": {"name": "arr"}, "transform": [{"filter": "datum.p == 'b'"}, {"calculate": "atan2((datum.t2 - datum.t) * 206 / 70, (datum.v2 - datum.v) * 161 / (indexof(['a','b','c'], datum.p) >= 0 ? 0.03 : 0.01)) * 180 / PI", "as": "ang"}], "mark": {"type": "point", "shape": "M0,0L0.55,1.7L-0.55,1.7Z", "filled": true, "color": "#111", "opacity": 1, "size": 60}, "encoding": {"x": {"field": "t2", "type": "quantitative", "scale": {"domain": [0, 70], "nice": false}, "axis": null}, "y": {"field": "v2", "type": "quantitative", "scale": {"domain": [0, 0.03], "nice": false}, "axis": null}, "angle": {"field": "ang", "type": "quantitative", "scale": null}}},
{"data": {"name": "ann"}, "transform": [{"filter": "datum.p == 'b'"}], "mark": {"type": "text", "fontSize": 9.5, "align": "center", "baseline": "middle", "color": "#333"}, "encoding": {"x": {"field": "t", "type": "quantitative", "scale": {"domain": [0, 70], "nice": false}, "axis": null}, "y": {"field": "v", "type": "quantitative", "scale": {"domain": [0, 0.03], "nice": false}, "axis": null}, "text": {"field": "txt"}}},
{"data": {"name": "lab"}, "transform": [{"filter": "datum.p == 'b'"}], "mark": {"type": "text", "fontSize": 11.5, "fontWeight": "bold", "align": "left", "baseline": "middle", "color": "#222"}, "encoding": {"x": {"field": "t", "type": "quantitative", "scale": {"domain": [0, 70], "nice": false}, "axis": null}, "y": {"field": "v", "type": "quantitative", "scale": {"domain": [0, 0.03], "nice": false}, "axis": null}, "text": {"field": "txt"}}}
]},
{"width": 205, "height": 162, "resolve": {"axis": {"x": "independent", "y": "independent"}}, "layer": [
{"data": {"name": "bg"}, "transform": [{"filter": "datum.p == 'c'"}], "mark": "rect", "encoding": {"x": {"field": "t0", "type": "quantitative", "scale": {"domain": [0, 70], "nice": false}, "axis": null}, "x2": {"field": "t1"}, "fill": {"field": "kind", "type": "nominal", "scale": {"domain": ["pep", "scr", "gst"], "range": ["#dce6f2", "#fbe2d4", "#e5eedb"]}, "legend": null}}},
{"data": {"name": "lines"}, "transform": [{"filter": "datum.p == 'c'"}], "mark": {"type": "line", "strokeWidth": 2}, "encoding": {
"x": {"field": "t", "type": "quantitative", "scale": {"domain": [0, 70], "nice": false}, "axis": {"values": [0,10,20,30,40,50,60,70], "labelExpr": "datum.value % 20 == 0 && datum.value < 70 ? datum.label : ''", "tickSize": -3, "labelPadding": 12, "domain": false, "grid": false, "zindex": 1, "labelFontSize": 10.5, "labelColor": "#222", "tickColor": "#333", "labelFlush": false, "labelOverlap": false, "title": "t (min)", "titleX": 146, "titleY": 13, "titleBaseline": "top", "titleAlign": "center", "titleFontSize": 11, "titleFontWeight": "bold", "titleColor": "#222"}},
"y": {"field": "v", "type": "quantitative", "scale": {"domain": [0, 0.03], "nice": false}, "axis": {"orient": "left", "values": [0,0.0025,0.005,0.0075,0.01,0.0125,0.015,0.0175,0.02,0.0225,0.025,0.0275,0.03], "labels": false, "tickSize": 5, "domain": false, "grid": false, "zindex": 1, "tickColor": "#333", "title": null}},
"color": {"field": "ch", "type": "nominal", "scale": {"domain": ["Ch. 1", "Ch. 2"], "range": ["#6a8bc6", "#80b06b"]}, "legend": null}}},
{"data": {"name": "arr"}, "transform": [{"filter": "datum.p == 'c'"}], "mark": {"type": "rule", "strokeWidth": 1.3, "color": "#111"}, "encoding": {"x": {"field": "t", "type": "quantitative", "scale": {"domain": [0, 70], "nice": false}, "axis": null}, "x2": {"field": "t2"}, "y": {"field": "v", "type": "quantitative", "scale": {"domain": [0, 0.03], "nice": false}, "axis": null}, "y2": {"field": "v2"}}},
{"data": {"name": "arr"}, "transform": [{"filter": "datum.p == 'c'"}, {"calculate": "atan2((datum.t2 - datum.t) * 206 / 70, (datum.v2 - datum.v) * 161 / (indexof(['a','b','c'], datum.p) >= 0 ? 0.03 : 0.01)) * 180 / PI", "as": "ang"}], "mark": {"type": "point", "shape": "M0,0L0.55,1.7L-0.55,1.7Z", "filled": true, "color": "#111", "opacity": 1, "size": 60}, "encoding": {"x": {"field": "t2", "type": "quantitative", "scale": {"domain": [0, 70], "nice": false}, "axis": null}, "y": {"field": "v2", "type": "quantitative", "scale": {"domain": [0, 0.03], "nice": false}, "axis": null}, "angle": {"field": "ang", "type": "quantitative", "scale": null}}},
{"data": {"name": "ann"}, "transform": [{"filter": "datum.p == 'c'"}], "mark": {"type": "text", "fontSize": 9.5, "align": "center", "baseline": "middle", "color": "#333"}, "encoding": {"x": {"field": "t", "type": "quantitative", "scale": {"domain": [0, 70], "nice": false}, "axis": null}, "y": {"field": "v", "type": "quantitative", "scale": {"domain": [0, 0.03], "nice": false}, "axis": null}, "text": {"field": "txt"}}},
{"data": {"name": "lab"}, "transform": [{"filter": "datum.p == 'c'"}], "mark": {"type": "text", "fontSize": 11.5, "fontWeight": "bold", "align": "left", "baseline": "middle", "color": "#222"}, "encoding": {"x": {"field": "t", "type": "quantitative", "scale": {"domain": [0, 70], "nice": false}, "axis": null}, "y": {"field": "v", "type": "quantitative", "scale": {"domain": [0, 0.03], "nice": false}, "axis": null}, "text": {"field": "txt"}}}
]}
]},
{"spacing": 0, "vconcat": [
{"bounds": "flush", "spacing": 11, "hconcat": [
{"width": 206, "height": 160, "resolve": {"axis": {"x": "independent", "y": "independent"}}, "layer": [
{"data": {"name": "bg"}, "transform": [{"filter": "datum.p == 'd'"}], "mark": "rect", "encoding": {"x": {"field": "t0", "type": "quantitative", "scale": {"domain": [0, 70], "nice": false}, "axis": null}, "x2": {"field": "t1"}, "fill": {"field": "kind", "type": "nominal", "scale": {"domain": ["pep", "scr", "gst"], "range": ["#dce6f2", "#fbe2d4", "#e5eedb"]}, "legend": null}}},
{"data": {"name": "lines"}, "transform": [{"filter": "datum.p == 'd'"}], "mark": {"type": "line", "strokeWidth": 2.2, "color": "#a27a5a"}, "encoding": {
"x": {"field": "t", "type": "quantitative", "scale": {"domain": [0, 70], "nice": false}, "axis": {"values": [0,10,20,30,40,50,60,70], "labelExpr": "datum.value % 20 == 0 && datum.value < 70 ? datum.label : ''", "tickSize": -3, "labelPadding": 12, "domain": false, "grid": false, "zindex": 1, "labelFontSize": 10.5, "labelColor": "#222", "tickColor": "#333", "labelFlush": false, "labelOverlap": false, "title": "t (min)", "titleX": 146, "titleY": 13, "titleBaseline": "top", "titleAlign": "center", "titleFontSize": 11, "titleFontWeight": "bold", "titleColor": "#222"}},
"y": {"field": "v", "type": "quantitative", "scale": {"domain": [0, 0.01], "nice": false}, "axis": {"orient": "left", "values": [0,0.002,0.004,0.006,0.008,0.01], "format": "~g", "tickSize": 5, "labelPadding": 2, "domain": false, "grid": false, "zindex": 1, "labelFontSize": 10.5, "labelColor": "#222", "tickColor": "#333", "title": "Δθ", "titleX": -47, "titleY": 124, "titleAngle": -90, "titleAlign": "left", "titleBaseline": "middle", "titleFontSize": 12.5, "titleFontWeight": "bold", "titleColor": "#222"}}}},
{"data": {"name": "arr"}, "transform": [{"filter": "datum.p == 'd'"}], "mark": {"type": "rule", "strokeWidth": 1.3, "color": "#111"}, "encoding": {"x": {"field": "t", "type": "quantitative", "scale": {"domain": [0, 70], "nice": false}, "axis": null}, "x2": {"field": "t2"}, "y": {"field": "v", "type": "quantitative", "scale": {"domain": [0, 0.01], "nice": false}, "axis": {"orient": "left", "labels": false, "ticks": false, "domain": false, "grid": false, "title": "SPR (Ch.1 – Ch.2)", "titleX": -43, "titleY": 104, "titleAngle": -90, "titleAlign": "left", "titleBaseline": "middle", "titleFontSize": 6, "titleFontWeight": "bold", "titleColor": "#222"}}, "y2": {"field": "v2"}}},
{"data": {"name": "arr"}, "transform": [{"filter": "datum.p == 'd'"}, {"calculate": "atan2((datum.t2 - datum.t) * 206 / 70, (datum.v2 - datum.v) * 161 / (indexof(['a','b','c'], datum.p) >= 0 ? 0.03 : 0.01)) * 180 / PI", "as": "ang"}], "mark": {"type": "point", "shape": "M0,0L0.55,1.7L-0.55,1.7Z", "filled": true, "color": "#111", "opacity": 1, "size": 60}, "encoding": {"x": {"field": "t2", "type": "quantitative", "scale": {"domain": [0, 70], "nice": false}, "axis": null}, "y": {"field": "v2", "type": "quantitative", "scale": {"domain": [0, 0.01], "nice": false}, "axis": {"orient": "left", "labels": false, "ticks": false, "domain": false, "grid": false, "title": "(Deg)", "titleX": -47, "titleY": 44, "titleAngle": -90, "titleAlign": "left", "titleBaseline": "middle", "titleFontSize": 11, "titleFontWeight": "bold", "titleColor": "#222"}}, "angle": {"field": "ang", "type": "quantitative", "scale": null}}},
{"data": {"name": "ann"}, "transform": [{"filter": "datum.p == 'd'"}], "mark": {"type": "text", "fontSize": 9.5, "align": "center", "baseline": "middle", "color": "#333"}, "encoding": {"x": {"field": "t", "type": "quantitative", "scale": {"domain": [0, 70], "nice": false}, "axis": null}, "y": {"field": "v", "type": "quantitative", "scale": {"domain": [0, 0.01], "nice": false}, "axis": null}, "text": {"field": "txt"}}},
{"data": {"name": "lab"}, "transform": [{"filter": "datum.p == 'd'"}], "mark": {"type": "text", "fontSize": 11.5, "fontWeight": "bold", "align": "left", "baseline": "middle", "color": "#222"}, "encoding": {"x": {"field": "t", "type": "quantitative", "scale": {"domain": [0, 70], "nice": false}, "axis": null}, "y": {"field": "v", "type": "quantitative", "scale": {"domain": [0, 0.01], "nice": false}, "axis": null}, "text": {"field": "txt"}}}
]},
{"width": 205, "height": 160, "resolve": {"axis": {"x": "independent", "y": "independent"}}, "layer": [
{"data": {"name": "bg"}, "transform": [{"filter": "datum.p == 'e'"}], "mark": "rect", "encoding": {"x": {"field": "t0", "type": "quantitative", "scale": {"domain": [0, 70], "nice": false}, "axis": null}, "x2": {"field": "t1"}, "fill": {"field": "kind", "type": "nominal", "scale": {"domain": ["pep", "scr", "gst"], "range": ["#dce6f2", "#fbe2d4", "#e5eedb"]}, "legend": null}}},
{"data": {"name": "lines"}, "transform": [{"filter": "datum.p == 'e'"}], "mark": {"type": "line", "strokeWidth": 2.2, "color": "#a27a5a"}, "encoding": {
"x": {"field": "t", "type": "quantitative", "scale": {"domain": [0, 70], "nice": false}, "axis": {"values": [0,10,20,30,40,50,60,70], "labelExpr": "datum.value % 20 == 0 && datum.value < 70 ? datum.label : ''", "tickSize": -3, "labelPadding": 12, "domain": false, "grid": false, "zindex": 1, "labelFontSize": 10.5, "labelColor": "#222", "tickColor": "#333", "labelFlush": false, "labelOverlap": false, "title": "t (min)", "titleX": 146, "titleY": 13, "titleBaseline": "top", "titleAlign": "center", "titleFontSize": 11, "titleFontWeight": "bold", "titleColor": "#222"}},
"y": {"field": "v", "type": "quantitative", "scale": {"domain": [0, 0.01], "nice": false}, "axis": {"orient": "left", "values": [0,0.002,0.004,0.006,0.008,0.01], "labels": false, "tickSize": 5, "domain": false, "grid": false, "zindex": 1, "tickColor": "#333", "title": null}}}},
{"data": {"name": "arr"}, "transform": [{"filter": "datum.p == 'e'"}], "mark": {"type": "rule", "strokeWidth": 1.3, "color": "#111"}, "encoding": {"x": {"field": "t", "type": "quantitative", "scale": {"domain": [0, 70], "nice": false}, "axis": null}, "x2": {"field": "t2"}, "y": {"field": "v", "type": "quantitative", "scale": {"domain": [0, 0.01], "nice": false}, "axis": null}, "y2": {"field": "v2"}}},
{"data": {"name": "arr"}, "transform": [{"filter": "datum.p == 'e'"}, {"calculate": "atan2((datum.t2 - datum.t) * 206 / 70, (datum.v2 - datum.v) * 161 / (indexof(['a','b','c'], datum.p) >= 0 ? 0.03 : 0.01)) * 180 / PI", "as": "ang"}], "mark": {"type": "point", "shape": "M0,0L0.55,1.7L-0.55,1.7Z", "filled": true, "color": "#111", "opacity": 1, "size": 60}, "encoding": {"x": {"field": "t2", "type": "quantitative", "scale": {"domain": [0, 70], "nice": false}, "axis": null}, "y": {"field": "v2", "type": "quantitative", "scale": {"domain": [0, 0.01], "nice": false}, "axis": null}, "angle": {"field": "ang", "type": "quantitative", "scale": null}}},
{"data": {"name": "ann"}, "transform": [{"filter": "datum.p == 'e'"}], "mark": {"type": "text", "fontSize": 9.5, "align": "center", "baseline": "middle", "color": "#333"}, "encoding": {"x": {"field": "t", "type": "quantitative", "scale": {"domain": [0, 70], "nice": false}, "axis": null}, "y": {"field": "v", "type": "quantitative", "scale": {"domain": [0, 0.01], "nice": false}, "axis": null}, "text": {"field": "txt"}}},
{"data": {"name": "lab"}, "transform": [{"filter": "datum.p == 'e'"}], "mark": {"type": "text", "fontSize": 11.5, "fontWeight": "bold", "align": "left", "baseline": "middle", "color": "#222"}, "encoding": {"x": {"field": "t", "type": "quantitative", "scale": {"domain": [0, 70], "nice": false}, "axis": null}, "y": {"field": "v", "type": "quantitative", "scale": {"domain": [0, 0.01], "nice": false}, "axis": null}, "text": {"field": "txt"}}}
]},
{"width": 205, "height": 160, "resolve": {"axis": {"x": "independent", "y": "independent"}}, "layer": [
{"data": {"name": "bg"}, "transform": [{"filter": "datum.p == 'f'"}], "mark": "rect", "encoding": {"x": {"field": "t0", "type": "quantitative", "scale": {"domain": [0, 70], "nice": false}, "axis": null}, "x2": {"field": "t1"}, "fill": {"field": "kind", "type": "nominal", "scale": {"domain": ["pep", "scr", "gst"], "range": ["#dce6f2", "#fbe2d4", "#e5eedb"]}, "legend": null}}},
{"data": {"name": "lines"}, "transform": [{"filter": "datum.p == 'f'"}], "mark": {"type": "line", "strokeWidth": 2.2, "color": "#a27a5a"}, "encoding": {
"x": {"field": "t", "type": "quantitative", "scale": {"domain": [0, 70], "nice": false}, "axis": {"values": [0,10,20,30,40,50,60,70], "labelExpr": "datum.value % 20 == 0 && datum.value < 70 ? datum.label : ''", "tickSize": -3, "labelPadding": 12, "domain": false, "grid": false, "zindex": 1, "labelFontSize": 10.5, "labelColor": "#222", "tickColor": "#333", "labelFlush": false, "labelOverlap": false, "title": "t (min)", "titleX": 146, "titleY": 13, "titleBaseline": "top", "titleAlign": "center", "titleFontSize": 11, "titleFontWeight": "bold", "titleColor": "#222"}},
"y": {"field": "v", "type": "quantitative", "scale": {"domain": [0, 0.01], "nice": false}, "axis": {"orient": "left", "values": [0,0.002,0.004,0.006,0.008,0.01], "labels": false, "tickSize": 5, "domain": false, "grid": false, "zindex": 1, "tickColor": "#333", "title": null}}}},
{"data": {"name": "arr"}, "transform": [{"filter": "datum.p == 'f'"}], "mark": {"type": "rule", "strokeWidth": 1.3, "color": "#111"}, "encoding": {"x": {"field": "t", "type": "quantitative", "scale": {"domain": [0, 70], "nice": false}, "axis": null}, "x2": {"field": "t2"}, "y": {"field": "v", "type": "quantitative", "scale": {"domain": [0, 0.01], "nice": false}, "axis": null}, "y2": {"field": "v2"}}},
{"data": {"name": "arr"}, "transform": [{"filter": "datum.p == 'f'"}, {"calculate": "atan2((datum.t2 - datum.t) * 206 / 70, (datum.v2 - datum.v) * 161 / (indexof(['a','b','c'], datum.p) >= 0 ? 0.03 : 0.01)) * 180 / PI", "as": "ang"}], "mark": {"type": "point", "shape": "M0,0L0.55,1.7L-0.55,1.7Z", "filled": true, "color": "#111", "opacity": 1, "size": 60}, "encoding": {"x": {"field": "t2", "type": "quantitative", "scale": {"domain": [0, 70], "nice": false}, "axis": null}, "y": {"field": "v2", "type": "quantitative", "scale": {"domain": [0, 0.01], "nice": false}, "axis": null}, "angle": {"field": "ang", "type": "quantitative", "scale": null}}},
{"data": {"name": "ann"}, "transform": [{"filter": "datum.p == 'f'"}], "mark": {"type": "text", "fontSize": 9.5, "align": "center", "baseline": "middle", "color": "#333"}, "encoding": {"x": {"field": "t", "type": "quantitative", "scale": {"domain": [0, 70], "nice": false}, "axis": null}, "y": {"field": "v", "type": "quantitative", "scale": {"domain": [0, 0.01], "nice": false}, "axis": null}, "text": {"field": "txt"}}},
{"data": {"name": "lab"}, "transform": [{"filter": "datum.p == 'f'"}], "mark": {"type": "text", "fontSize": 11.5, "fontWeight": "bold", "align": "left", "baseline": "middle", "color": "#222"}, "encoding": {"x": {"field": "t", "type": "quantitative", "scale": {"domain": [0, 70], "nice": false}, "axis": null}, "y": {"field": "v", "type": "quantitative", "scale": {"domain": [0, 0.01], "nice": false}, "axis": null}, "text": {"field": "txt"}}}
]}
]},
{"bounds": "flush", "spacing": 11, "hconcat": [
{"width": 206, "height": 162, "resolve": {"axis": {"x": "independent", "y": "independent"}}, "layer": [
{"data": {"name": "bg"}, "transform": [{"filter": "datum.p == 'g'"}], "mark": "rect", "encoding": {"x": {"field": "t0", "type": "quantitative", "scale": {"domain": [0, 70], "nice": false}, "axis": null}, "x2": {"field": "t1"}, "fill": {"field": "kind", "type": "nominal", "scale": {"domain": ["pep", "scr", "gst"], "range": ["#dce6f2", "#fbe2d4", "#e5eedb"]}, "legend": null}}},
{"data": {"name": "lines"}, "transform": [{"filter": "datum.p == 'g'"}], "mark": {"type": "line", "strokeWidth": 2.2, "color": "#b5783f"}, "encoding": {
"x": {"field": "t", "type": "quantitative", "scale": {"domain": [0, 70], "nice": false}, "axis": {"values": [0,10,20,30,40,50,60,70], "labelExpr": "datum.value % 20 == 0 && datum.value < 70 ? datum.label : ''", "tickSize": -3, "labelPadding": 11, "domain": false, "grid": false, "zindex": 1, "labelFontSize": 10.5, "labelColor": "#222", "tickColor": "#333", "labelFlush": false, "labelOverlap": false, "title": "t (min)", "titleX": 146, "titleY": 11, "titleBaseline": "top", "titleAlign": "center", "titleFontSize": 11, "titleFontWeight": "bold", "titleColor": "#222"}},
"y": {"field": "v", "type": "quantitative", "scale": {"domain": [0, 0.01], "nice": false}, "axis": {"orient": "left", "values": [0,0.002,0.004,0.006,0.008,0.01], "format": "~g", "tickSize": 5, "labelPadding": 2, "domain": false, "grid": false, "zindex": 1, "labelFontSize": 10.5, "labelColor": "#222", "tickColor": "#333", "title": "Δθ", "titleX": -47, "titleY": 125, "titleAngle": -90, "titleAlign": "left", "titleBaseline": "middle", "titleFontSize": 12.5, "titleFontWeight": "bold", "titleColor": "#222"}}}},
{"data": {"name": "arr"}, "transform": [{"filter": "datum.p == 'g'"}], "mark": {"type": "rule", "strokeWidth": 1.3, "color": "#111"}, "encoding": {"x": {"field": "t", "type": "quantitative", "scale": {"domain": [0, 70], "nice": false}, "axis": null}, "x2": {"field": "t2"}, "y": {"field": "v", "type": "quantitative", "scale": {"domain": [0, 0.01], "nice": false}, "axis": {"orient": "left", "labels": false, "ticks": false, "domain": false, "grid": false, "title": "SPR (Ch.1 – Ch.2)", "titleX": -43, "titleY": 103, "titleAngle": -90, "titleAlign": "left", "titleBaseline": "middle", "titleFontSize": 6, "titleFontWeight": "bold", "titleColor": "#222"}}, "y2": {"field": "v2"}}},
{"data": {"name": "arr"}, "transform": [{"filter": "datum.p == 'g'"}, {"calculate": "atan2((datum.t2 - datum.t) * 206 / 70, (datum.v2 - datum.v) * 161 / (indexof(['a','b','c'], datum.p) >= 0 ? 0.03 : 0.01)) * 180 / PI", "as": "ang"}], "mark": {"type": "point", "shape": "M0,0L0.55,1.7L-0.55,1.7Z", "filled": true, "color": "#111", "opacity": 1, "size": 60}, "encoding": {"x": {"field": "t2", "type": "quantitative", "scale": {"domain": [0, 70], "nice": false}, "axis": null}, "y": {"field": "v2", "type": "quantitative", "scale": {"domain": [0, 0.01], "nice": false}, "axis": {"orient": "left", "labels": false, "ticks": false, "domain": false, "grid": false, "title": "(Deg)", "titleX": -47, "titleY": 45, "titleAngle": -90, "titleAlign": "left", "titleBaseline": "middle", "titleFontSize": 11, "titleFontWeight": "bold", "titleColor": "#222"}}, "angle": {"field": "ang", "type": "quantitative", "scale": null}}},
{"data": {"name": "ann"}, "transform": [{"filter": "datum.p == 'g'"}], "mark": {"type": "text", "fontSize": 9.5, "align": "center", "baseline": "middle", "color": "#333"}, "encoding": {"x": {"field": "t", "type": "quantitative", "scale": {"domain": [0, 70], "nice": false}, "axis": null}, "y": {"field": "v", "type": "quantitative", "scale": {"domain": [0, 0.01], "nice": false}, "axis": null}, "text": {"field": "txt"}}},
{"data": {"name": "lab"}, "transform": [{"filter": "datum.p == 'g'"}], "mark": {"type": "text", "fontSize": 11.5, "fontWeight": "bold", "align": "left", "baseline": "middle", "color": "#222"}, "encoding": {"x": {"field": "t", "type": "quantitative", "scale": {"domain": [0, 70], "nice": false}, "axis": null}, "y": {"field": "v", "type": "quantitative", "scale": {"domain": [0, 0.01], "nice": false}, "axis": null}, "text": {"field": "txt"}}}
]},
{"width": 205, "height": 162, "resolve": {"axis": {"x": "independent", "y": "independent"}}, "layer": [
{"data": {"name": "bg"}, "transform": [{"filter": "datum.p == 'h'"}], "mark": "rect", "encoding": {"x": {"field": "t0", "type": "quantitative", "scale": {"domain": [0, 70], "nice": false}, "axis": null}, "x2": {"field": "t1"}, "fill": {"field": "kind", "type": "nominal", "scale": {"domain": ["pep", "scr", "gst"], "range": ["#dce6f2", "#fbe2d4", "#e5eedb"]}, "legend": null}}},
{"data": {"name": "lines"}, "transform": [{"filter": "datum.p == 'h'"}], "mark": {"type": "line", "strokeWidth": 2.2, "color": "#b5783f"}, "encoding": {
"x": {"field": "t", "type": "quantitative", "scale": {"domain": [0, 70], "nice": false}, "axis": {"values": [0,10,20,30,40,50,60,70], "labelExpr": "datum.value % 20 == 0 && datum.value < 70 ? datum.label : ''", "tickSize": -3, "labelPadding": 11, "domain": false, "grid": false, "zindex": 1, "labelFontSize": 10.5, "labelColor": "#222", "tickColor": "#333", "labelFlush": false, "labelOverlap": false, "title": "t (min)", "titleX": 146, "titleY": 11, "titleBaseline": "top", "titleAlign": "center", "titleFontSize": 11, "titleFontWeight": "bold", "titleColor": "#222"}},
"y": {"field": "v", "type": "quantitative", "scale": {"domain": [0, 0.01], "nice": false}, "axis": {"orient": "left", "values": [0,0.002,0.004,0.006,0.008,0.01], "labels": false, "tickSize": 5, "domain": false, "grid": false, "zindex": 1, "tickColor": "#333", "title": null}}}},
{"data": {"name": "arr"}, "transform": [{"filter": "datum.p == 'h'"}], "mark": {"type": "rule", "strokeWidth": 1.3, "color": "#111"}, "encoding": {"x": {"field": "t", "type": "quantitative", "scale": {"domain": [0, 70], "nice": false}, "axis": null}, "x2": {"field": "t2"}, "y": {"field": "v", "type": "quantitative", "scale": {"domain": [0, 0.01], "nice": false}, "axis": null}, "y2": {"field": "v2"}}},
{"data": {"name": "arr"}, "transform": [{"filter": "datum.p == 'h'"}, {"calculate": "atan2((datum.t2 - datum.t) * 206 / 70, (datum.v2 - datum.v) * 161 / (indexof(['a','b','c'], datum.p) >= 0 ? 0.03 : 0.01)) * 180 / PI", "as": "ang"}], "mark": {"type": "point", "shape": "M0,0L0.55,1.7L-0.55,1.7Z", "filled": true, "color": "#111", "opacity": 1, "size": 60}, "encoding": {"x": {"field": "t2", "type": "quantitative", "scale": {"domain": [0, 70], "nice": false}, "axis": null}, "y": {"field": "v2", "type": "quantitative", "scale": {"domain": [0, 0.01], "nice": false}, "axis": null}, "angle": {"field": "ang", "type": "quantitative", "scale": null}}},
{"data": {"name": "ann"}, "transform": [{"filter": "datum.p == 'h'"}], "mark": {"type": "text", "fontSize": 9.5, "align": "center", "baseline": "middle", "color": "#333"}, "encoding": {"x": {"field": "t", "type": "quantitative", "scale": {"domain": [0, 70], "nice": false}, "axis": null}, "y": {"field": "v", "type": "quantitative", "scale": {"domain": [0, 0.01], "nice": false}, "axis": null}, "text": {"field": "txt"}}},
{"data": {"name": "lab"}, "transform": [{"filter": "datum.p == 'h'"}], "mark": {"type": "text", "fontSize": 11.5, "fontWeight": "bold", "align": "left", "baseline": "middle", "color": "#222"}, "encoding": {"x": {"field": "t", "type": "quantitative", "scale": {"domain": [0, 70], "nice": false}, "axis": null}, "y": {"field": "v", "type": "quantitative", "scale": {"domain": [0, 0.01], "nice": false}, "axis": null}, "text": {"field": "txt"}}}
]},
{"width": 205, "height": 162, "resolve": {"axis": {"x": "independent", "y": "independent"}}, "layer": [
{"data": {"name": "bg"}, "transform": [{"filter": "datum.p == 'i'"}], "mark": "rect", "encoding": {"x": {"field": "t0", "type": "quantitative", "scale": {"domain": [0, 70], "nice": false}, "axis": null}, "x2": {"field": "t1"}, "fill": {"field": "kind", "type": "nominal", "scale": {"domain": ["pep", "scr", "gst"], "range": ["#dce6f2", "#fbe2d4", "#e5eedb"]}, "legend": null}}},
{"data": {"name": "lines"}, "transform": [{"filter": "datum.p == 'i'"}], "mark": {"type": "line", "strokeWidth": 2.2, "color": "#b5783f"}, "encoding": {
"x": {"field": "t", "type": "quantitative", "scale": {"domain": [0, 70], "nice": false}, "axis": {"values": [0,10,20,30,40,50,60,70], "labelExpr": "datum.value % 20 == 0 && datum.value < 70 ? datum.label : ''", "tickSize": -3, "labelPadding": 11, "domain": false, "grid": false, "zindex": 1, "labelFontSize": 10.5, "labelColor": "#222", "tickColor": "#333", "labelFlush": false, "labelOverlap": false, "title": "t (min)", "titleX": 146, "titleY": 11, "titleBaseline": "top", "titleAlign": "center", "titleFontSize": 11, "titleFontWeight": "bold", "titleColor": "#222"}},
"y": {"field": "v", "type": "quantitative", "scale": {"domain": [0, 0.01], "nice": false}, "axis": {"orient": "left", "values": [0,0.002,0.004,0.006,0.008,0.01], "labels": false, "tickSize": 5, "domain": false, "grid": false, "zindex": 1, "tickColor": "#333", "title": null}}}},
{"data": {"name": "arr"}, "transform": [{"filter": "datum.p == 'i'"}], "mark": {"type": "rule", "strokeWidth": 1.3, "color": "#111"}, "encoding": {"x": {"field": "t", "type": "quantitative", "scale": {"domain": [0, 70], "nice": false}, "axis": null}, "x2": {"field": "t2"}, "y": {"field": "v", "type": "quantitative", "scale": {"domain": [0, 0.01], "nice": false}, "axis": null}, "y2": {"field": "v2"}}},
{"data": {"name": "arr"}, "transform": [{"filter": "datum.p == 'i'"}, {"calculate": "atan2((datum.t2 - datum.t) * 206 / 70, (datum.v2 - datum.v) * 161 / (indexof(['a','b','c'], datum.p) >= 0 ? 0.03 : 0.01)) * 180 / PI", "as": "ang"}], "mark": {"type": "point", "shape": "M0,0L0.55,1.7L-0.55,1.7Z", "filled": true, "color": "#111", "opacity": 1, "size": 60}, "encoding": {"x": {"field": "t2", "type": "quantitative", "scale": {"domain": [0, 70], "nice": false}, "axis": null}, "y": {"field": "v2", "type": "quantitative", "scale": {"domain": [0, 0.01], "nice": false}, "axis": null}, "angle": {"field": "ang", "type": "quantitative", "scale": null}}},
{"data": {"name": "ann"}, "transform": [{"filter": "datum.p == 'i'"}], "mark": {"type": "text", "fontSize": 9.5, "align": "center", "baseline": "middle", "color": "#333"}, "encoding": {"x": {"field": "t", "type": "quantitative", "scale": {"domain": [0, 70], "nice": false}, "axis": null}, "y": {"field": "v", "type": "quantitative", "scale": {"domain": [0, 0.01], "nice": false}, "axis": null}, "text": {"field": "txt"}}},
{"data": {"name": "lab"}, "transform": [{"filter": "datum.p == 'i'"}], "mark": {"type": "text", "fontSize": 11.5, "fontWeight": "bold", "align": "left", "baseline": "middle", "color": "#222"}, "encoding": {"x": {"field": "t", "type": "quantitative", "scale": {"domain": [0, 70], "nice": false}, "axis": null}, "y": {"field": "v", "type": "quantitative", "scale": {"domain": [0, 0.01], "nice": false}, "axis": null}, "text": {"field": "txt"}}}
]}
]}
]}
]
}
